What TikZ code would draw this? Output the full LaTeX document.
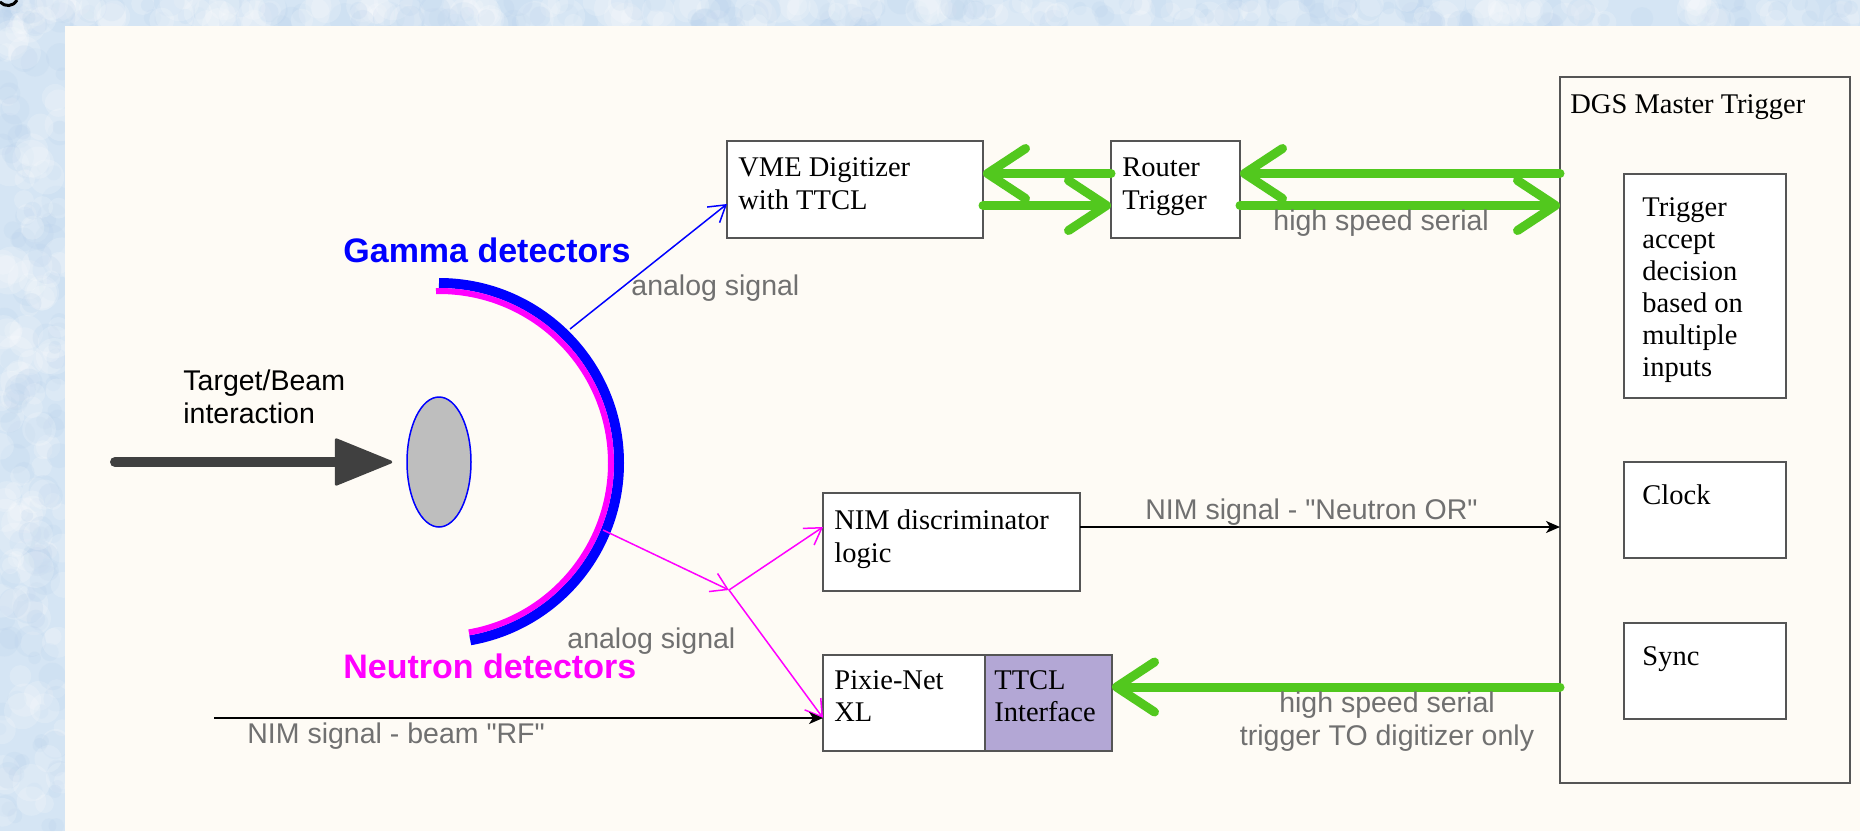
\documentclass[tikz,border=0pt]{standalone}
\usepackage{fontspec}
\setmainfont{Liberation Serif}
\newfontfamily\arialf{Liberation Sans}
\usetikzlibrary{arrows.meta,shapes.geometric,calc}

\definecolor{pagebg}{HTML}{D5E5F4}
\definecolor{pagespot}{HTML}{BCD3EC}
\definecolor{panel}{HTML}{FEFBF5}
\definecolor{boxline}{HTML}{555555}
\definecolor{lblgray}{HTML}{707070}
\definecolor{fatgreen}{HTML}{52C81E}
\definecolor{ttclfill}{HTML}{B3A7D5}
\definecolor{beamgray}{HTML}{404040}
\definecolor{targetgray}{HTML}{BEBEBE}
\definecolor{gammablue}{HTML}{0000FF}
\definecolor{neutronpink}{HTML}{FF00FF}

\begin{document}
\begin{tikzpicture}[x=0.5pt,y=-0.5pt,
  box/.style={draw=boxline, line width=0.75pt, fill=white, rectangle,
    anchor=north west, inner sep=0pt, outer sep=0pt},
  % multi-line texts are placed by the baseline of their last line
  txt/.style={font=\fontsize{14.25}{16.5}\selectfont, anchor=base west,
    align=left, inner sep=0pt},
  lbl/.style={font=\arialf\fontsize{14.25}{16.5}\selectfont, text=lblgray,
    anchor=base west, inner sep=0pt},
  det/.style={font=\arialf\bfseries\fontsize{17}{20}\selectfont,
    anchor=base west, inner sep=0pt},
  fat/.style={draw=fatgreen, line width=4.5pt, line cap=round,
    -{Straight Barb[length=19pt,width=25pt,round]}},
  gsig/.style={draw=gammablue, line width=0.75pt,
    -{Straight Barb[length=8pt,width=10pt]}},
  nsig/.style={draw=neutronpink, line width=0.75pt,
    -{Straight Barb[length=8pt,width=10pt]}},
  nim/.style={draw=black, line width=1pt,
    -{Stealth[length=7pt,width=6pt,inset=2pt]}},
  beam/.style={draw=beamgray, line width=5pt, line cap=round,
    -{Triangle[length=30pt,width=24pt,round,line width=1.5pt]}}
]
\useasboundingbox (0,0) rectangle (1860,831);

% page background with a soft mottled texture
\fill[pagebg] (0,0) rectangle (1860,831);
\begin{scope}
  \clip (0,0) rectangle (1860,26) (0,26) rectangle (65,831);
  \pgfmathsetseed{11}
  \foreach \i in {1,...,160} {
    \fill[white, opacity=0.18] ({rnd*1860},{rnd*26}) circle[radius={(4+6*rnd)*1pt}];
    \fill[pagespot, opacity=0.22] ({rnd*1860},{rnd*26}) circle[radius={(3+5*rnd)*1pt}];
  }
  \foreach \i in {1,...,120} {
    \fill[white, opacity=0.18] ({rnd*65},{rnd*831}) circle[radius={(4+6*rnd)*1pt}];
    \fill[pagespot, opacity=0.22] ({rnd*65},{rnd*831}) circle[radius={(3+5*rnd)*1pt}];
  }
\end{scope}
\draw[line width=1.5pt] (0,2) .. controls (5,7) and (13,7) .. (17,0);
\fill[panel] (65,26) rectangle (1860,831);

% target and beam
\node[ellipse, draw=gammablue, line width=0.75pt, fill=targetgray,
  minimum width=32pt, minimum height=65pt, inner sep=0pt] (target) at (439,462) {};
\coordinate (beamstart) at (115,462);
\draw[beam, shorten >=7pt] (beamstart) -- (target.west);
\node[lbl, text=black, align=left] (beamlbl) at (183,423) {Target/Beam\\interaction};

% detector shells
\coordinate (arcc) at (439,463);
\draw[gammablue, line width=5pt] ([shift={(90:90pt)}]arcc) arc[start angle=90, end angle=-80, radius=90pt];
\draw[neutronpink, line width=3pt] ([shift={(91:86pt)}]arcc) arc[start angle=91, end angle=-80, radius=86pt];
\node[det, text=gammablue] (gammalbl) at (343,262) {Gamma detectors};
\node[det, text=neutronpink] (neutronlbl) at (343,678) {Neutron detectors};

% front-end boxes
\node[box, minimum width=128pt, minimum height=48.5pt] (vme) at (727,141) {};
\node[txt] (vmet) at (738,209) {VME Digitizer\\with TTCL};
\node[box, minimum width=64.5pt, minimum height=48.5pt] (router) at (1111,141) {};
\node[txt] (routert) at (1122,209) {Router\\Trigger};
\node[box, minimum width=128.5pt, minimum height=49pt] (nimbox) at (823,493) {};
\node[txt] (nimt) at (834,562) {NIM discriminator\\logic};
\node[box, minimum width=81pt, minimum height=48pt] (pixie) at (823,655) {};
\node[txt, font=\fontsize{14.25}{16}\selectfont] (pixiet) at (834,721) {Pixie-Net\\XL};
\node[box, fill=ttclfill, minimum width=63.5pt, minimum height=48pt] (ttcl) at (985,655) {};
\node[txt, font=\fontsize{14.25}{16}\selectfont] (ttclt) at (994,721) {TTCL\\Interface};

% master trigger
\node[box, fill=none, minimum width=145pt, minimum height=353pt] (dgs) at (1560,77) {};
\node[txt] (dgst) at (1570,113) {DGS Master Trigger};
\node[box, minimum width=81pt, minimum height=112pt] (decide) at (1624,174) {};
\node[txt, font=\fontsize{14.25}{16}\selectfont] (decidet) at (1642,376)
  {Trigger\\accept\\decision\\based on\\multiple\\inputs};
\node[box, minimum width=81pt, minimum height=48pt] (clock) at (1624,462) {};
\node[txt] (clockt) at (1642,504) {Clock};
\node[box, minimum width=81pt, minimum height=48pt] (sync) at (1624,623) {};
\node[txt] (synct) at (1642,665) {Sync};

% analog signals
\coordinate (gsrc) at (570,329);
\draw[gsig] (gsrc) -- ([yshift=-7.25pt]vme.west);
\node[lbl] (glbl) at (631,295) {analog signal};
\coordinate (nsrc) at (603,530);
\coordinate (njunc) at (729,590);
\draw[nsig] (nsrc) -- (njunc);
\draw[nsig] (njunc) -- ([yshift=7.5pt]nimbox.west);
\draw[nsig] (njunc) -- ([yshift=-7.5pt]pixie.west);
\node[lbl] (nlbl) at (567,648) {analog signal};

% high speed serial links
\draw[fat] ([yshift=8pt]router.west) -- ([yshift=8pt]vme.east);
\draw[fat] ([yshift=-8pt]vme.east) -- ([yshift=-8pt]router.west);
\draw[fat] ([yshift=8pt]router.east -| dgs.west) -- ([yshift=8pt]router.east);
\draw[fat] ([yshift=-8pt]router.east) -- ([yshift=-8pt]router.east -| dgs.west);
\node[lbl] (hsslbl) at (1273,230) {high speed serial};
\draw[fat] ([yshift=8pt]ttcl.east -| dgs.west) -- ([yshift=8pt]ttcl.east);
\node[lbl, anchor=base, align=center] (trglbl) at (1387,745)
  {high speed serial\\trigger TO digitizer only};

% NIM logic signals
\draw[nim] ([yshift=7.5pt]nimbox.east) -- ([yshift=7.5pt]nimbox.east -| dgs.west);
\node[lbl] (orlbl) at (1145,519) {NIM signal - "Neutron OR"};
\coordinate (rfstart) at (214,718);
\draw[nim] (rfstart) -- ([yshift=-7.5pt]pixie.west);
\node[lbl] (rflbl) at (247,743) {NIM signal - beam "RF"};
\end{tikzpicture}
\end{document}
